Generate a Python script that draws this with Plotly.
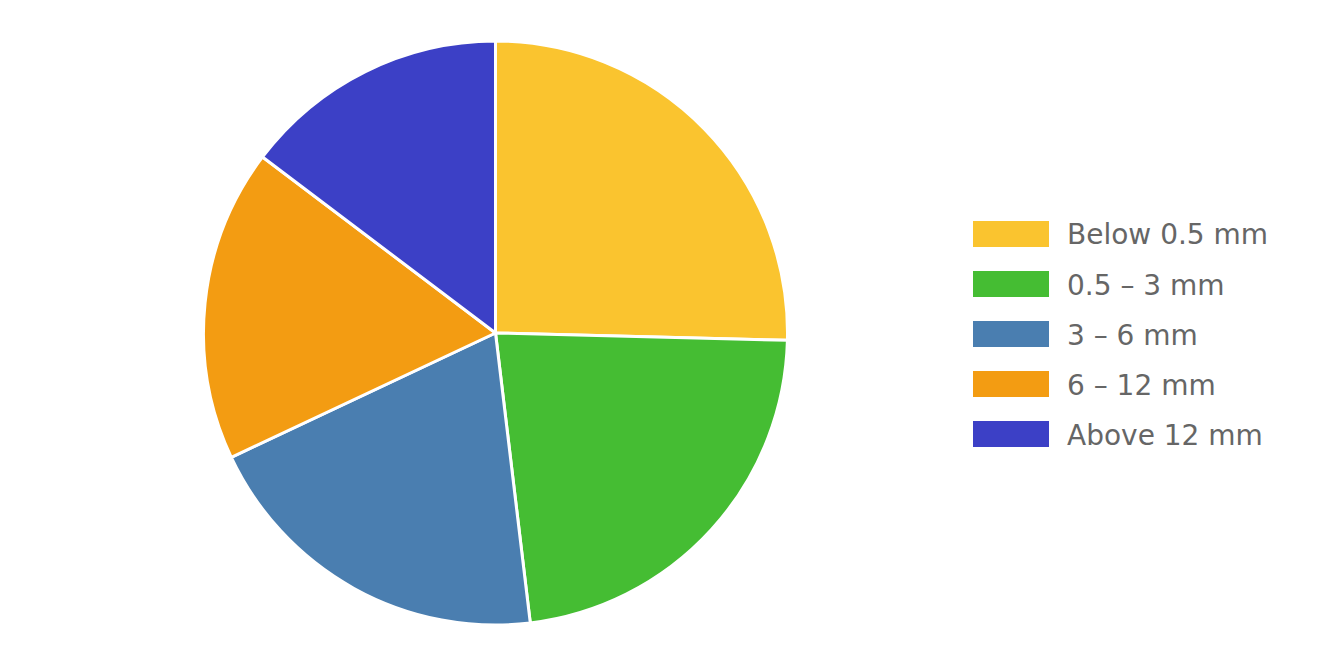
import plotly.graph_objects as go

categories = ["Below 0.5 mm", "0.5 – 3 mm", "3 – 6 mm", "6 – 12 mm", "Above 12 mm"]
values = [25.4, 22.7, 19.9, 17.3, 14.7]
colors = ["#FAC42F", "#45BD33", "#4A7EB0", "#F39C12", "#3C40C6"]

W, H = 1336, 668
OFF = 8  # page body margin
FONT = "DejaVu Sans, sans-serif"
TEXT_COLOR = "#666666"


def px(x):
    return (x - OFF) / W


def py(y):
    return 1 - (y - OFF) / H


fig = go.Figure()
fig.add_trace(go.Pie(
    labels=categories,
    values=values,
    sort=False,
    direction="clockwise",
    rotation=0,
    marker=dict(colors=colors, line=dict(color="#FFFFFF", width=3)),
    textinfo="none",
    hoverinfo="label+value+percent",
    showlegend=False,
    domain=dict(x=[px(203.5), px(787.5)], y=[py(625), py(41)]),
))

# custom legend (layout elements)
shapes = []
annotations = []
for i, (lab, col) in enumerate(zip(categories, colors)):
    cy = 234 + 50 * i
    shapes.append(dict(
        type="rect", xref="paper", yref="paper",
        x0=px(973), x1=px(1049), y0=py(cy + 13), y1=py(cy - 13),
        fillcolor=col, line=dict(width=0),
    ))
    annotations.append(dict(
        x=px(1065), y=py(cy + 1), xref="paper", yref="paper",
        text=lab, showarrow=False, xanchor="left", yanchor="middle",
        font=dict(family=FONT, size=28, color=TEXT_COLOR),
    ))

fig.update_layout(
    width=W, height=H,
    margin=dict(l=0, r=0, t=0, b=0),
    paper_bgcolor="#FFFFFF",
    plot_bgcolor="#FFFFFF",
    font=dict(family=FONT, color=TEXT_COLOR),
    shapes=shapes,
    annotations=annotations,
)

fig.write_html("out.html")
